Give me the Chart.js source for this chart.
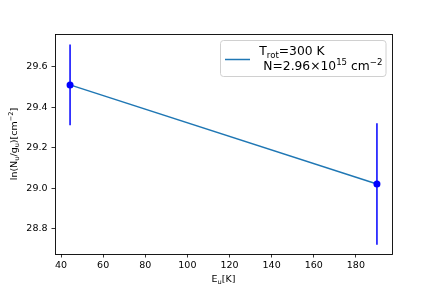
<!DOCTYPE html>
<html>
<head>
<meta charset="utf-8">
<script src="https://cdn.jsdelivr.net/npm/chart.js@4.4.1/dist/chart.umd.min.js"></script>
<style>
  html, body { margin: 0; padding: 0; background: #fff; }
  #wrap { width: 436px; height: 291px; }
</style>
</head>
<body>
<div id="wrap"><canvas id="chart" width="436" height="291"></canvas></div>
<script>
// data
const energies = [44.3, 190.0];
const lnValues = [29.51, 29.02];
const errors = [0.2, 0.3];
const fitValues = [29.51, 29.02];
const xTicks = [40, 60, 80, 100, 120, 140, 160, 180];
const yTicks = [28.8, 29.0, 29.2, 29.4, 29.6];
const xRange = [37.15, 197.15];
const yRange = [28.674, 29.7615];

const FONT = "'DejaVu Sans', sans-serif";

// draw a run of text pieces with sub/superscripts, returns width
function richText(ctx, parts, x, y, size, measureOnly) {
  let cx = x;
  parts.forEach(p => {
    const small = p.mode !== 'n';
    const fs = small ? size * 0.7 : size;
    ctx.font = fs + 'px ' + FONT;
    let dy = 0;
    if (p.mode === 'sub') dy = size * 0.22;
    if (p.mode === 'sup') dy = -size * 0.38;
    if (!measureOnly) ctx.fillText(p.t, cx, y + dy);
    cx += ctx.measureText(p.t).width;
  });
  return cx - x;
}

const extras = {
  id: 'extras',
  afterDatasetsDraw(chart) {
    const ctx = chart.ctx;
    const a = chart.chartArea;
    ctx.save();
    // frame
    ctx.strokeStyle = '#000';
    ctx.lineWidth = 0.9;
    ctx.strokeRect(Math.round(a.left) + 0.5, Math.round(a.top) + 0.5,
      Math.round(a.right - a.left), Math.round(a.bottom - a.top));

    ctx.fillStyle = '#000';
    ctx.textBaseline = 'alphabetic';
    ctx.textAlign = 'left';

    // x title
    const xt = [{t: 'E', mode: 'n'}, {t: 'u', mode: 'sub'}, {t: '[K]', mode: 'n'}];
    const xw = richText(ctx, xt, 0, 0, 9.5, true);
    richText(ctx, xt, (a.left + a.right) / 2 - xw / 2, 282, 9.5);

    // y title
    const yt = [{t: 'ln(N', mode: 'n'}, {t: 'u', mode: 'sub'}, {t: '/g', mode: 'n'},
      {t: 'u', mode: 'sub'}, {t: ')[cm', mode: 'n'}, {t: '\u22122', mode: 'sup'}, {t: ']', mode: 'n'}];
    const yw = richText(ctx, yt, 0, 0, 9.5, true);
    ctx.save();
    ctx.translate(17, (a.top + a.bottom) / 2);
    ctx.rotate(-Math.PI / 2);
    richText(ctx, yt, -yw / 2, 0, 9.5);
    ctx.restore();

    // legend
    const bx = 220.5, by = 40.5, bw = 165.5, bh = 36;
    ctx.fillStyle = 'rgba(255,255,255,0.8)';
    ctx.strokeStyle = '#d0d0d0';
    ctx.lineWidth = 1;
    ctx.beginPath();
    ctx.roundRect(bx, by, bw, bh, 3);
    ctx.fill();
    ctx.stroke();
    ctx.strokeStyle = '#1f77b4';
    ctx.lineWidth = 1.5;
    ctx.beginPath();
    ctx.moveTo(225, 59.5);
    ctx.lineTo(250, 59.5);
    ctx.stroke();
    ctx.fillStyle = '#000';
    richText(ctx, [{t: 'T', mode: 'n'}, {t: 'rot', mode: 'sub'}, {t: '=300 K', mode: 'n'}], 259.3, 55, 12.3);
    richText(ctx, [{t: 'N=2.96\u00d710', mode: 'n'}, {t: '15', mode: 'sup'}, {t: ' cm', mode: 'n'},
      {t: '\u22122', mode: 'sup'}], 263.3, 69.5, 12.3);
    ctx.restore();
  }
};

const errorSets = energies.map((e, i) => ({
  data: [{x: e, y: lnValues[i] - errors[i]}, {x: e, y: lnValues[i] + errors[i]}],
  showLine: true,
  borderColor: '#0000ff',
  borderWidth: 1.5,
  pointRadius: 0,
  order: 2
}));

new Chart(document.getElementById('chart'), {
  type: 'scatter',
  data: {
    datasets: [
      {
        data: energies.map((e, i) => ({x: e, y: lnValues[i]})),
        showLine: false,
        pointRadius: 3.5,
        pointBackgroundColor: '#0000ff',
        pointBorderWidth: 0,
        order: 0
      },
      {
        data: energies.map((e, i) => ({x: e, y: fitValues[i]})),
        showLine: true,
        borderColor: '#1f77b4',
        borderWidth: 1.5,
        pointRadius: 0,
        order: 1
      },
      ...errorSets
    ]
  },
  options: {
    responsive: false,
    animation: false,
    layout: { padding: { left: 0, top: 34, right: 44, bottom: 0 } },
    plugins: { legend: { display: false }, tooltip: { enabled: false } },
    scales: {
      x: {
        type: 'linear',
        min: xRange[0],
        max: xRange[1],
        afterFit(s) { s.height = 37; },
        afterBuildTicks(s) { s.ticks = xTicks.map(v => ({value: v})); },
        border: { display: false },
        grid: { drawOnChartArea: false, drawTicks: true, tickLength: 3.5, color: '#000', lineWidth: 0.8 },
        ticks: { color: '#000', padding: 2, maxRotation: 0, font: { family: FONT, size: 9.5 } }
      },
      y: {
        type: 'linear',
        min: yRange[0],
        max: yRange[1],
        afterFit(s) { s.width = 55; },
        afterBuildTicks(s) { s.ticks = yTicks.map(v => ({value: v})); },
        border: { display: false },
        grid: { drawOnChartArea: false, drawTicks: true, tickLength: 3.5, color: '#000', lineWidth: 0.8 },
        ticks: { color: '#000', padding: 4, font: { family: FONT, size: 9.5 },
          callback: v => v.toFixed(1) }
      }
    }
  },
  plugins: [extras]
});
</script>
</body>
</html>
